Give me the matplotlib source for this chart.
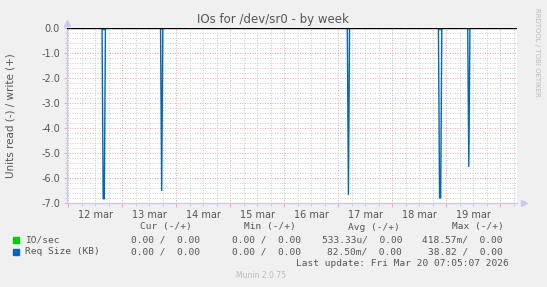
import numpy as np
import pandas as pd
import matplotlib
matplotlib.use('Agg')
import matplotlib.pyplot as plt

# data (read side is drawn negative)
t_origin = pd.Timestamp('2026-03-12 00:00')
t_first = '2026-03-11 23:30'
t_last = '2026-03-20 07:00'
spike_times = ['2026-03-12 15:30', '2026-03-12 16:00', '2026-03-13 17:30',
               '2026-03-17 04:30', '2026-03-18 21:00', '2026-03-18 21:30',
               '2026-03-19 10:00']
req_size_read = [6.83, 6.83, 6.50, 6.66, 6.80, 6.80, 5.54]
io_read = [0.07, 0.07, 0.03, 0.03, 0.07, 0.07, 0.03]
day_labels = ['12 mar', '13 mar', '14 mar', '15 mar', '16 mar', '17 mar', '18 mar', '19 mar']
y_ticks = [0, -1, -2, -3, -4, -5, -6, -7]

legend_names = ['IO/sec', 'Req Size (KB)']
legend_colors = ['#00cc00', '#0066b3']
col_heads = ['Cur (-/+)', 'Min (-/+)', 'Avg (-/+)', 'Max (-/+)']
io_cells = ['0.00 /  0.00', '0.00 /  0.00', '533.33u/  0.00', '418.57m/  0.00']
req_cells = ['0.00 /  0.00', '0.00 /  0.00', '82.50m/  0.00', '38.82 /  0.00']

# build series on 30 min steps
idx = pd.date_range(t_first, t_last, freq='30min')
req = pd.Series(0.0, index=idx)
io = pd.Series(0.0, index=idx)
req.loc[pd.to_datetime(spike_times)] = -np.array(req_size_read)
io.loc[pd.to_datetime(spike_times)] = -np.array(io_read)
x = (idx - t_origin) / pd.Timedelta('1D')

W, H = 547, 287
bg = '#f0f0f0'
txt = '#555555'
fig = plt.figure(figsize=(W / 100, H / 100), dpi=100, facecolor=bg)
ax = fig.add_axes([67 / W, (H - 203) / H, 450 / W, 175 / H])
ax.set_facecolor('white')

xmin, xmax = -0.024, 8.309
ax.set_xlim(xmin, xmax)
ax.set_ylim(-7, 0)

# grid
dots = (0, (1, 1.5))
red = '#eeaaaa'
grey = '#cfcfcf'
for d in np.arange(0, 8.5, 0.25):
    if d > xmax:
        break
    col = red if d % 1 == 0 else grey
    ax.axvline(d, color=col, lw=0.72, ls=dots, zorder=1)
for v in np.arange(-7, 0.01, 0.2):
    major = abs(v - round(v)) < 1e-6
    ax.axhline(v, color=red if major else grey, lw=0.72, ls=dots, zorder=1)
ax.axvline(xmin, color=grey, lw=0.72, ls=dots, zorder=1)

ax.plot(x, io, color=legend_colors[0], lw=1.0, zorder=3)
ax.plot(x, req, color=legend_colors[1], lw=1.0, zorder=4)
ax.axhline(0, color='black', lw=1.0, zorder=5)

for s in ['top', 'right']:
    ax.spines[s].set_visible(False)
for s in ['left', 'bottom']:
    ax.spines[s].set_color('#c8c8f0')
    ax.spines[s].set_linewidth(1.0)
ax.plot([1.015], [0], marker='>', ms=5, color='#c8c8f0', transform=ax.transAxes, clip_on=False)
ax.plot([0], [1.03], marker='^', ms=5, color='#c8c8f0', transform=ax.transAxes, clip_on=False)

ax.set_xticks(np.arange(0, 9))
ax.set_xticklabels([])
ax.set_xticks(np.arange(0, 8.3, 0.25), minor=True)
ax.tick_params(axis='x', which='major', length=3, color=red, width=0.8)
ax.tick_params(axis='x', which='minor', length=2, color=grey, width=0.8)
for i, lab in enumerate(day_labels):
    ax.text(i + 0.5, -0.04, lab, transform=ax.get_xaxis_transform(),
            ha='center', va='top', fontsize=7, color=txt)

ax.set_yticks(y_ticks)
ax.set_yticklabels(['%.1f' % v for v in y_ticks], fontsize=7, color=txt)
ax.set_yticks(np.arange(-7, 0.01, 0.2), minor=True)
ax.tick_params(axis='y', which='major', length=2, color=red, width=0.8, pad=3)
ax.tick_params(axis='y', which='minor', length=1.5, color=grey, width=0.8)

def ftext(px, py, s, **kw):
    fig.text(px / W, 1 - py / H, s, **kw)

ftext(273, 19, 'IOs for /dev/sr0 - by week', ha='center', va='center', fontsize=8.5, color=txt)
ftext(11, 116, 'Units read (-) / write (+)', ha='center', va='center', rotation=90, fontsize=7.5, color=txt)
ftext(537, 52, 'RRDTOOL / TOBI OETIKER', ha='center', va='center', rotation=270, fontsize=5, color='#bbbbbb')

mono = dict(family='DejaVu Sans Mono', fontsize=6.8, color=txt, va='center')
for head, cx in zip(col_heads, [165.5, 269.5, 373.5, 477.5]):
    ftext(cx, 227, head, ha='center', **mono)
rows = [io_cells, req_cells]
for r, (name, col, cells) in enumerate(zip(legend_names, legend_colors, rows)):
    py = 240 + r * 12
    fig.patches.append(plt.Rectangle((13 / W, 1 - (py + 3) / H), 6 / W, 6 / H,
                                     transform=fig.transFigure, color=col))
    ftext(25, py, name, ha='left', **mono)
    for cell, rx in zip(cells, [200, 301, 402, 503]):
        ftext(rx, py, cell, ha='right', **mono)
ftext(509, 263, 'Last update: Fri Mar 20 07:05:07 2026', ha='right', **mono)
ftext(261, 276, 'Munin 2.0.75', ha='center', va='center', fontsize=5.5, color='#bbbbbb')

fig.savefig('out.png', dpi=100, facecolor=bg)
